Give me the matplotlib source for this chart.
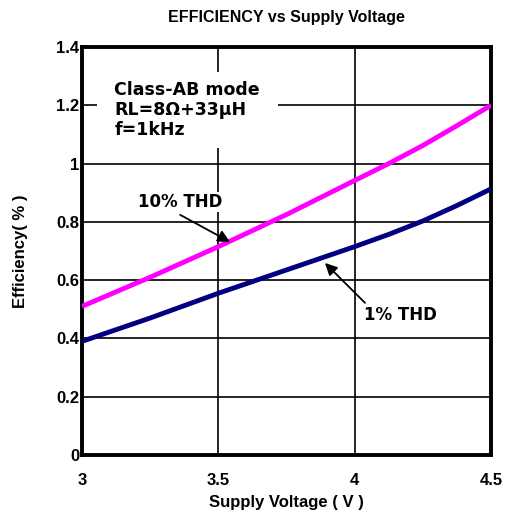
import matplotlib
matplotlib.use("Agg")
from matplotlib import pyplot as plt
from matplotlib.patches import Rectangle

# supply voltage (V) and efficiency curves
volts = [3.0, 3.25, 3.5, 3.75, 4.0, 4.125, 4.25, 4.375, 4.5]
eff_10thd = [0.51, 0.61, 0.715, 0.825, 0.942, 1.0, 1.062, 1.13, 1.20]
eff_1thd = [0.39, 0.47, 0.555, 0.635, 0.715, 0.757, 0.803, 0.856, 0.913]

x_ticks = [3, 3.5, 4, 4.5]
x_ticklabels = ["3", "3.5", "4", "4.5"]
y_ticks = [0, 0.2, 0.4, 0.6, 0.8, 1.0, 1.2, 1.4]
y_ticklabels = ["0", "0.2", "0.4", "0.6", "0.8", "1", "1.2", "1.4"]

plt.rcParams['font.family'] = ['Liberation Sans', 'DejaVu Sans']

fig = plt.figure(figsize=(5.06, 5.18), dpi=100)
ax = fig.add_axes([82 / 506, 63 / 518, 409 / 506, 408 / 518])

ax.grid(True, color='black', lw=1.2, zorder=1)
ax.plot(volts, eff_10thd, color='#ff00ff', lw=3.5, zorder=3, solid_capstyle='butt')
ax.plot(volts, eff_1thd, color='#000080', lw=3.5, zorder=3, solid_capstyle='butt')

ax.set_xlim(3, 4.5)
ax.set_ylim(0, 1.4)
ax.set_xticks(x_ticks)
ax.set_xticklabels(x_ticklabels, fontsize=12, fontweight='bold')
ax.set_yticks(y_ticks)
ax.set_yticklabels(y_ticklabels, fontsize=12, fontweight='bold')
ax.tick_params(axis='x', length=0, pad=13)
ax.tick_params(axis='y', length=0, pad=2)
for sp in ax.spines.values():
    sp.set_linewidth(2.8)

ax.set_title("EFFICIENCY vs Supply Voltage", fontsize=11.5, fontweight='bold', pad=18)
ax.set_xlabel("Supply Voltage ( V )", fontsize=12, fontweight='bold', labelpad=5)
ax.set_ylabel("Efficiency( % )", fontsize=12, fontweight='bold', labelpad=20)

# white background behind the conditions note
ax.add_patch(Rectangle((3.055, 1.054), 0.665, 0.26, facecolor='white',
                       edgecolor='none', zorder=2))
ax.text(3.118, 1.285, "Class-AB mode\nRL=8\u03a9+33\u00b5H\nf=1kHz", fontsize=12.5,
        fontweight='bold', family=['DejaVu Sans'], va='top', ha='left',
        linespacing=1.15, zorder=4)

box = dict(facecolor='white', edgecolor='none', pad=1)
arrow = dict(arrowstyle='-|>', color='black', lw=1.3, mutation_scale=18,
             shrinkA=0, shrinkB=0)
ax.text(3.36, 0.868, "10% THD", fontsize=12, fontweight='bold',
        family=['DejaVu Sans'], ha='center', va='center', bbox=box, zorder=5)
ax.annotate("", xy=(3.543, 0.731), xytext=(3.36, 0.824), arrowprops=arrow, zorder=5)
ax.text(4.168, 0.48, "1% THD", fontsize=12, fontweight='bold',
        family=['DejaVu Sans'], ha='center', va='center', bbox=box, zorder=5)
ax.annotate("", xy=(3.891, 0.659), xytext=(4.038, 0.522), arrowprops=arrow, zorder=5)

fig.savefig("out.png", dpi=100)
